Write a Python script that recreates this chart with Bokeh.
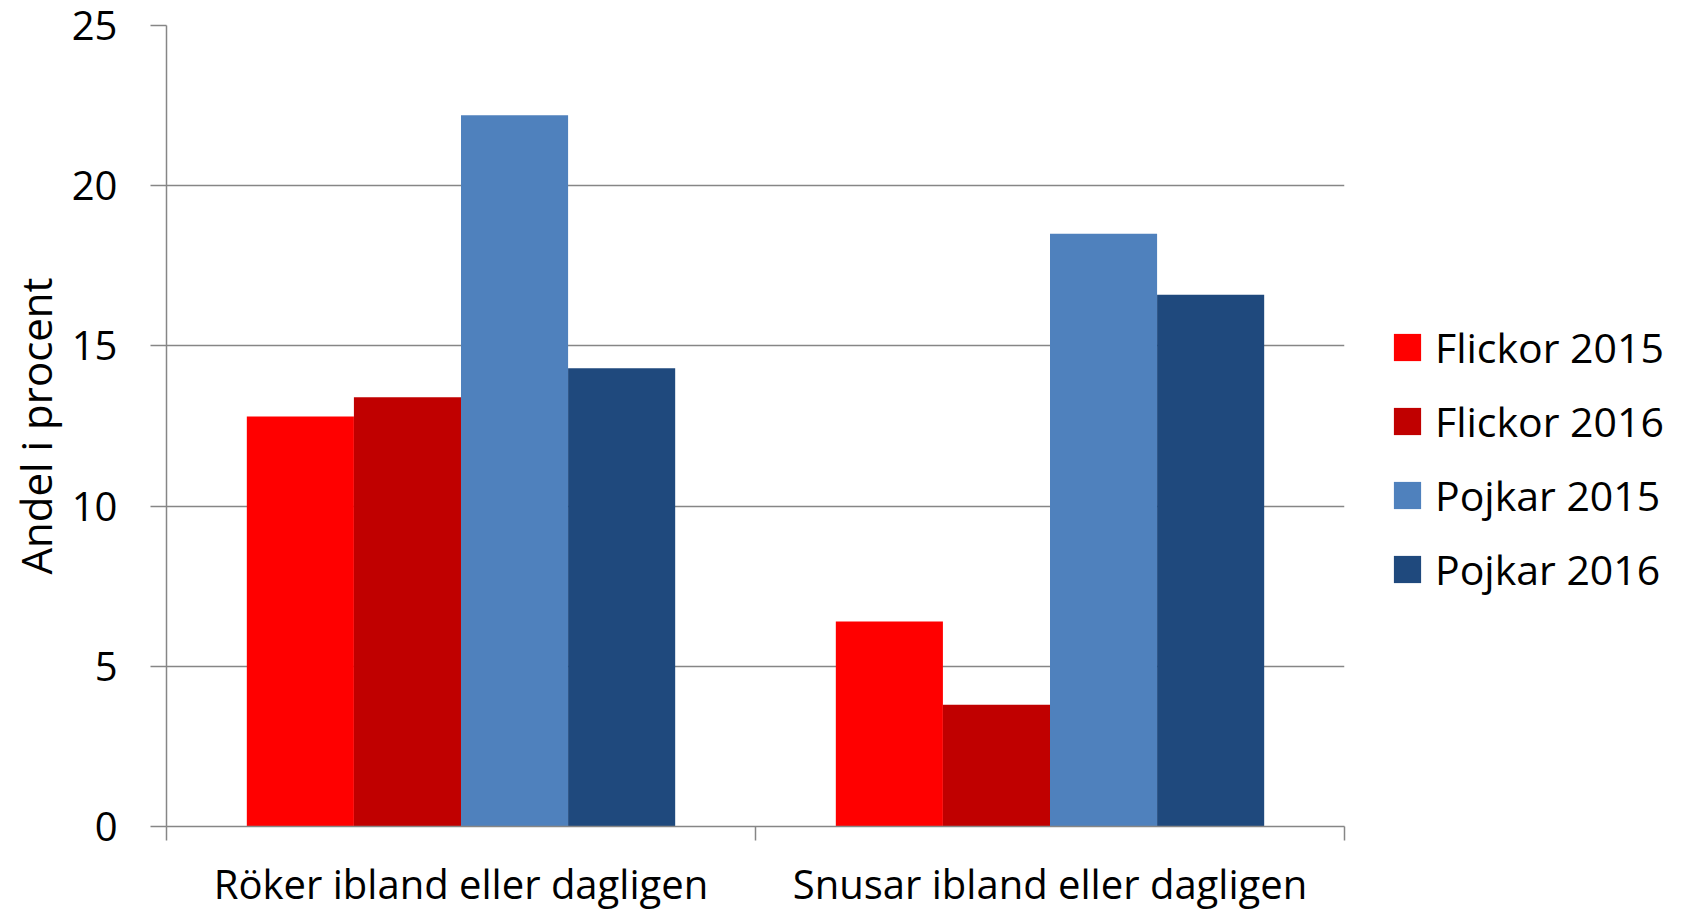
from bokeh.plotting import figure
from bokeh.models import (Range1d, FixedTicker, Legend, LegendItem, ColumnDataSource)
from bokeh.transform import dodge
from bokeh.embed import file_html
from bokeh.resources import INLINE

categories = ["Röker ibland eller dagligen", "Snusar ibland eller dagligen"]
series = ["Flickor 2015", "Flickor 2016", "Pojkar 2015", "Pojkar 2016"]
flickor_2015 = [12.8, 6.4]
flickor_2016 = [13.4, 3.8]
pojkar_2015 = [22.2, 18.5]
pojkar_2016 = [14.3, 16.6]
colors = ["#FF0000", "#C00000", "#4F81BD", "#1F497D"]
y_ticks = [0, 5, 10, 15, 20, 25]
y_label = "Andel i procent"

FONT = "Open Sans"
GRID = "#868686"
TEXT = "#000000"

ncat = len(categories)
centers = [i + 0.5 for i in range(ncat)]      # category slot centres on the x scale
edges = list(range(ncat + 1))                  # category slot boundaries

src = ColumnDataSource(dict(pos=centers, f15=flickor_2015, f16=flickor_2016,
                            p15=pojkar_2015, p16=pojkar_2016))
keys = ["f15", "f16", "p15", "p16"]

p = figure(frame_width=1178, frame_height=801,
           x_range=Range1d(0, ncat), y_range=Range1d(0, 25),
           output_backend="svg", toolbar_location=None,
           min_border_left=166, min_border_right=0,
           min_border_top=25, min_border_bottom=80)
p.outline_line_color = None
p.background_fill_color = "white"
p.border_fill_color = "white"
p.xgrid.visible = False

# y axis
p.yaxis.ticker = FixedTicker(ticks=y_ticks)
p.yaxis.major_tick_out = 16
p.yaxis.major_tick_in = 0
p.yaxis.minor_tick_out = 0
p.yaxis.minor_tick_in = 0
p.yaxis.axis_line_color = GRID
p.yaxis.axis_line_width = 1.5
p.yaxis.major_tick_line_color = GRID
p.yaxis.major_tick_line_width = 1.5
p.yaxis.major_label_text_font = FONT
p.yaxis.major_label_text_font_size = "40px"
p.yaxis.major_label_text_color = TEXT
p.yaxis.major_label_standoff = 33
p.yaxis.axis_label = y_label
p.yaxis.axis_label_text_font = FONT
p.yaxis.axis_label_text_font_size = "42px"
p.yaxis.axis_label_text_font_style = "normal"
p.yaxis.axis_label_text_color = TEXT
p.yaxis.axis_label_standoff = 5

p.ygrid.ticker = FixedTicker(ticks=y_ticks)
p.ygrid.grid_line_color = GRID
p.ygrid.grid_line_width = 1.5

# x axis: labels at slot centres, tick marks at slot boundaries
p.xaxis.ticker = FixedTicker(ticks=centers, minor_ticks=edges)
p.xaxis.major_label_overrides = {c: lab for c, lab in zip(centers, categories)}
p.xaxis.major_tick_out = 0
p.xaxis.major_tick_in = 0
p.xaxis.minor_tick_out = 14
p.xaxis.minor_tick_in = 0
p.xaxis.minor_tick_line_color = GRID
p.xaxis.minor_tick_line_width = 1.5
p.xaxis.axis_line_color = GRID
p.xaxis.axis_line_width = 1.5
p.xaxis.major_label_text_font = FONT
p.xaxis.major_label_text_font_size = "40px"
p.xaxis.major_label_text_color = TEXT
p.xaxis.major_label_standoff = 15

# bars
n = len(series)
bar_w = 1 / (n + 1.5)
renderers = []
for i, (k, c) in enumerate(zip(keys, colors)):
    off = (i - (n - 1) / 2) * bar_w
    r = p.vbar(x=dodge("pos", off), top=k, width=bar_w, bottom=0,
               source=src, fill_color=c, line_color=None)
    renderers.append(r)

legend = Legend(items=[LegendItem(label=s, renderers=[r]) for s, r in zip(series, renderers)],
                location=(46, 229), orientation="vertical",
                glyph_width=34, glyph_height=34, label_height=40,
                label_text_font=FONT, label_text_font_size="41px", label_text_color=TEXT,
                label_standoff=11, spacing=18, padding=0, margin=0,
                border_line_color=None, background_fill_alpha=0)
p.add_layout(legend, "right")

open("out.html", "w").write(file_html(p, INLINE))
